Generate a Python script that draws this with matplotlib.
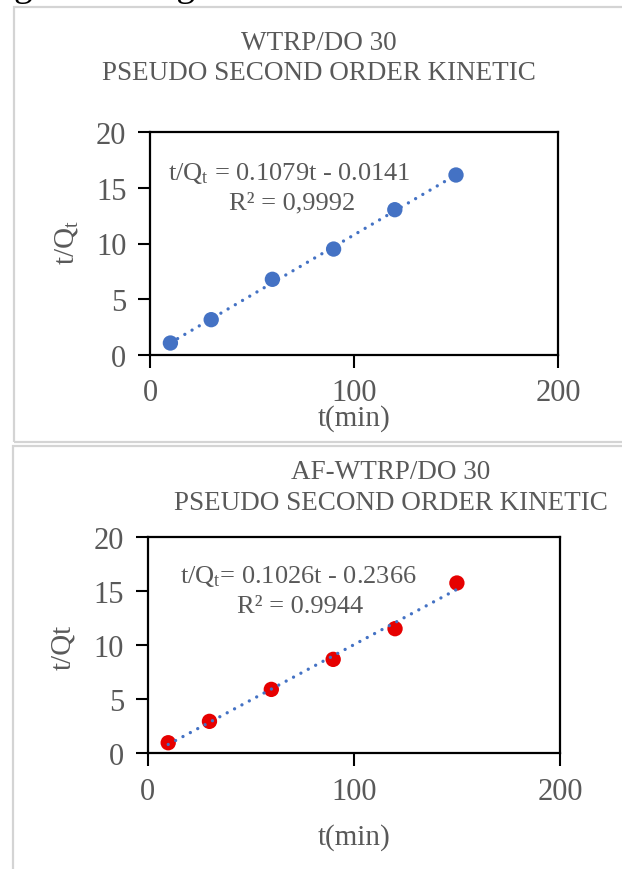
import numpy as np
import matplotlib
matplotlib.use('Agg')
import matplotlib.pyplot as plt
from matplotlib.patches import Rectangle

# contact time (min)
t_min = [10, 30, 60, 90, 120, 150]
# t/Qt for WTRP/DO 30
tq_wtrp = [1.05, 3.15, 6.78, 9.50, 13.04, 16.16]
# t/Qt for AF-WTRP/DO 30
tq_af = [0.95, 2.93, 5.89, 8.67, 11.51, 15.74]

# linear fits reported on the charts
fit_wtrp = (0.1079, -0.0141)
fit_af = (0.1026, -0.2366)

x_ticks = [0, 100, 200]
y_ticks = [0, 5, 10, 15, 20]

W, H = 622, 870
GREY = '#595959'
BLUE = '#4472C4'
RED = '#E60000'

plt.rcParams['font.family'] = ['Liberation Serif', 'DejaVu Serif']
plt.rcParams['mathtext.fontset'] = 'custom'
plt.rcParams['mathtext.rm'] = 'Liberation Serif'
plt.rcParams['mathtext.it'] = 'Liberation Serif'

fig = plt.figure(figsize=(W / 100, H / 100), dpi=100)


def fx(px):
    return px / W


def fy(py):
    return 1 - py / H


# cut off line of body text above the figure
fig.text(fx(14), fy(-4), 'given in Figure 4.', fontsize=27, color='black', va='baseline')

# light frames round each chart
fig.patches.append(Rectangle((fx(14), fy(443)), 1, fy(8) - fy(443), transform=fig.transFigure,
                             fill=False, edgecolor='#D4D4D4', lw=1.6))
fig.patches.append(Rectangle((fx(13), fy(880)), 1, fy(447) - fy(880), transform=fig.transFigure,
                             fill=False, edgecolor='#D4D4D4', lw=1.6))


def draw_panel(box, tq, fit, color, eq, r2, ylab, title1, title_cx, title_y, eq_xy, xlab_y, ylab_xy):
    l, r, top, bot = box
    ax = fig.add_axes([fx(l), fy(bot), fx(r - l), fy(top) - fy(bot)])
    ax.scatter(t_min, tq, s=122, color=color, edgecolors='none', zorder=3)
    xs = np.array([t_min[0], t_min[-1]])
    ax.plot(xs, fit[0] * xs + fit[1], color=BLUE, lw=2.4, linestyle=(0, (0.01, 2.5)),
            dash_capstyle='round', zorder=4)
    ax.set_xlim(0, 200)
    ax.set_ylim(0, 20)
    ax.set_xticks(x_ticks)
    ax.set_yticks(y_ticks)
    ax.tick_params(direction='out', length=9, width=1.5, colors='black',
                   labelcolor=GREY, labelsize=22, pad=8)
    for sp in ax.spines.values():
        sp.set_linewidth(1.6)
        sp.set_color('black')
    ax.text(eq_xy[0], eq_xy[1], eq, fontsize=19, color=GREY, ha='center', va='center')
    ax.text(eq_xy[0] + 1, eq_xy[1] - 2.75, r2, fontsize=19, color=GREY, ha='center', va='center')

    fig.text(fx(title_cx), fy(title_y), title1, fontsize=19.5, color=GREY, ha='center', va='center')
    fig.text(fx(title_cx), fy(title_y + 31), 'PSEUDO SECOND ORDER KINETIC', fontsize=19.5,
             color=GREY, ha='center', va='center')
    fig.text(fx((l + r) / 2), fy(xlab_y), 't(min)', fontsize=21, color=GREY, ha='center', va='center')
    fig.text(fx(ylab_xy[0]), fy(ylab_xy[1]), ylab, fontsize=21, color=GREY, ha='center',
             va='center', rotation=90)
    return ax


draw_panel((150, 558, 133.3, 355.7), tq_wtrp, fit_wtrp, BLUE,
           r't/Q$_\mathregular{t}$ = 0.1079t - 0.0141', 'R² = 0,9992', r't/Q$_\mathregular{t}$',
           'WTRP/DO 30', 319, 43, (68.5, 16.4), 419, (67, 243))

draw_panel((147.6, 560, 538, 754), tq_af, fit_af, RED,
           r't/Q$_\mathregular{t}$= 0.1026t - 0.2366', 'R² = 0.9944', 't/Qt',
           'AF-WTRP/DO 30', 391, 473, (73, 16.4), 838, (63, 647))

fig.savefig('out.png', dpi=100)
